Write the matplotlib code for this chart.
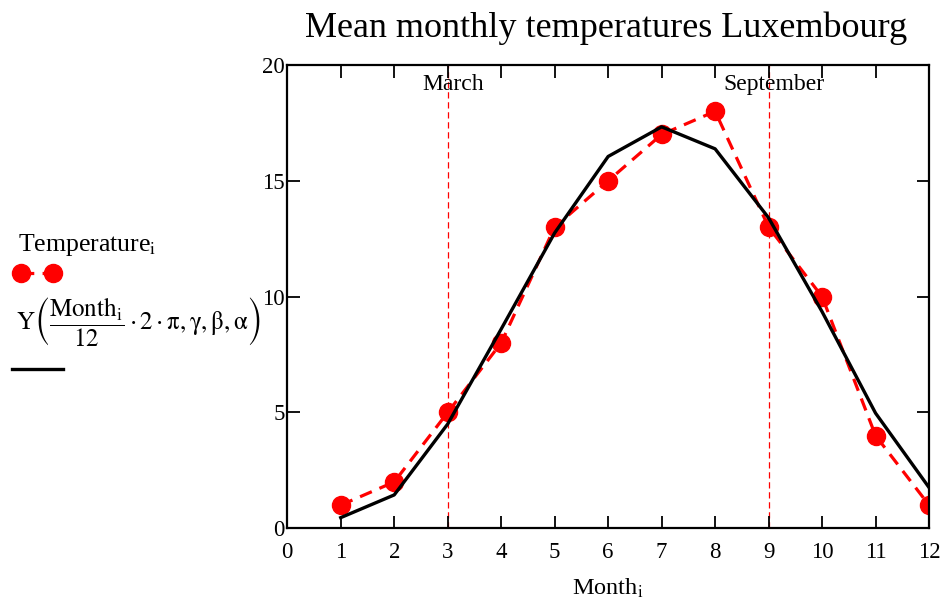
import matplotlib
matplotlib.use("Agg")
import matplotlib.pyplot as plt
from matplotlib.lines import Line2D

plt.rcParams['font.family'] = ['Liberation Serif', 'DejaVu Serif']
plt.rcParams['mathtext.fontset'] = 'stix'

# data
months = [1, 2, 3, 4, 5, 6, 7, 8, 9, 10, 11, 12]
temperature = [1, 2, 5, 8, 13, 15, 17, 18, 13, 10, 4, 1]
fit = [0.46, 1.44, 4.5, 8.6, 12.75, 16.05, 17.33, 16.38, 13.4, 9.35, 4.97, 1.76]
marks = [3, 9]
mark_labels = ['March', 'September']

fig = plt.figure(figsize=(9.48, 6.05), dpi=100)
ax = fig.add_axes([0.303, 0.1268, 0.677, 0.7658])

ax.plot(months, fit, color='black', lw=2.4, zorder=3)
ax.plot(months, temperature, color='red', lw=2.3, dashes=(4, 2.6),
        marker='o', markersize=13, zorder=2)

for m, lab in zip(marks, mark_labels):
    ax.axvline(m, color='red', lw=0.9, dashes=(5, 3), zorder=1)
    ax.text(m + 0.1, 19.15, lab, ha='center', va='center', fontsize=17)

ax.set_xlim(0, 12)
ax.set_ylim(0, 20)
ax.set_xticks(range(0, 13))
ax.set_yticks(range(0, 21, 5))
ax.tick_params(direction='in', length=9, width=1.3, top=True, right=True,
               labelsize=16.5)
ax.tick_params(axis='x', pad=10)
ax.tick_params(axis='y', pad=2)
for s in ax.spines.values():
    s.set_linewidth(1.6)

ax.set_xlabel(r'Month$_\mathrm{i}$', fontsize=17.5, labelpad=10)
fig.text(0.639, 1 - 28 / 605, 'Mean monthly temperatures Luxembourg',
         ha='center', va='center', fontsize=26)

# legend drawn by hand on the left
fig.text(18 / 948, 1 - 245 / 605, r'Temperature$_\mathrm{i}$',
         ha='left', va='center', fontsize=18.5)
fig.add_artist(Line2D([21 / 948, 53 / 948], [1 - 273 / 605, 1 - 273 / 605],
                      transform=fig.transFigure, color='red', lw=2.3,
                      dashes=(4, 2.6), marker='o', markersize=13))
fig.text(16 / 948, 1 - 322 / 605,
         r'$\mathrm{Y}\left(\dfrac{\mathrm{Month_i}}{12}\cdot 2\cdot\mathrm{\pi},\mathrm{\gamma},\mathrm{\beta},\mathrm{\alpha}\right)$',
         ha='left', va='center', fontsize=18)
fig.add_artist(Line2D([12 / 948, 63 / 948], [1 - 369 / 605, 1 - 369 / 605],
                      transform=fig.transFigure, color='black', lw=2.4))

fig.savefig('out.png', dpi=100)
